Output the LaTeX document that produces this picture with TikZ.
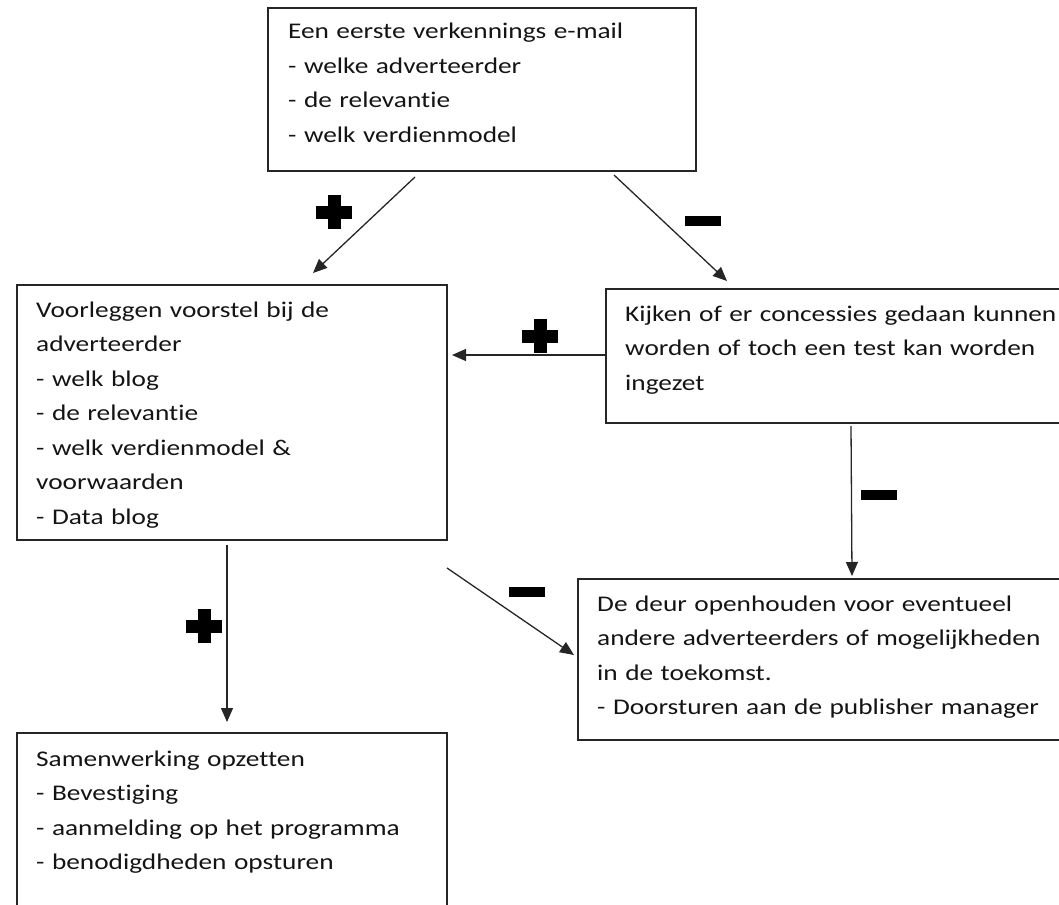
\documentclass[tikz,border=0pt]{standalone}
\usepackage{fontspec}
\setmainfont{Carlito}[FakeStretch=1.22, Ligatures={NoCommon}]
\usetikzlibrary{arrows.meta}
\tikzset{
  box/.style={draw=black!85, line width=1.6pt, anchor=north west, inner sep=0pt, outer sep=0pt},
  txt/.style={anchor=base west, inner sep=0pt, align=left, text width=480pt,
    font=\fontsize{22.4pt}{34.5pt}\selectfont, text=black!92},
  arr/.style={draw=black!85, line width=1.3pt, -{Triangle[length=14pt,width=12pt]}},
  plussign/.pic={\fill (-18,-6.5) rectangle (18,6.5); \fill (-6.5,-17) rectangle (6.5,17);},
  minussign/.pic={\fill (-18,-5) rectangle (18,5);}
}
\begin{document}
\begin{tikzpicture}[x=1pt,y=-1pt]
\useasboundingbox (0,0) rectangle (1059,904);
% boxes
\node[box, minimum width=428pt, minimum height=163pt] (top) at (268,8) {};
\node[box, minimum width=430pt, minimum height=255pt] (left) at (17,285) {};
\node[box, minimum width=470pt, minimum height=134pt] (right) at (606,289) {};
\node[box, minimum width=500pt, minimum height=161pt] (bright) at (578,579) {};
\node[box, minimum width=430pt, minimum height=190pt] (bleft) at (17,733) {};
% texts
\node[txt] (toptxt) at (288,39) {Een eerste verkennings e-mail\\- welke adverteerder\\- de relevantie\\- welk verdienmodel};
\node[txt] (lefttxt) at (36,317) {Voorleggen voorstel bij de\\adverteerder\\- welk blog\\- de relevantie\\- welk verdienmodel \&\\voorwaarden\\- Data blog};
\node[txt] (righttxt) at (625,321) {Kijken of er concessies gedaan kunnen\\worden of toch een test kan worden\\ingezet};
\node[txt] (brighttxt) at (597,611) {De deur openhouden voor eventueel\\andere adverteerders of mogelijkheden\\in de toekomst.\\- Doorsturen aan de publisher manager};
\node[txt] (blefttxt) at (36,766) {Samenwerking opzetten\\- Bevestiging\\- aanmelding op het programma\\- benodigdheden opsturen};
% connector end points
\coordinate (a1s) at (415,177); \coordinate (a1e) at (313,273);
\coordinate (a2s) at (614,175); \coordinate (a2e) at (727,281);
\coordinate (a3s) at (606,355); \coordinate (a3e) at (452,355);
\coordinate (a4s) at (227,545); \coordinate (a4e) at (227,722);
\coordinate (a5s) at (447,568); \coordinate (a5e) at (574,655);
\coordinate (a6s) at (851,426); \coordinate (a6e) at (852,576);
\draw[arr] (a1s) -- (a1e);
\draw[arr] (a2s) -- (a2e);
\draw[arr] (a3s) -- (a3e);
\draw[arr] (a4s) -- (a4e);
\draw[arr] (a5s) -- (a5e);
\draw[arr] (a6s) -- (a6e);
% signs
\pic at (334,212) {plussign};
\pic at (540,336) {plussign};
\pic at (204,626) {plussign};
\pic at (703,221) {minussign};
\pic at (879,495) {minussign};
\pic at (527,592) {minussign};
\end{tikzpicture}
\end{document}
